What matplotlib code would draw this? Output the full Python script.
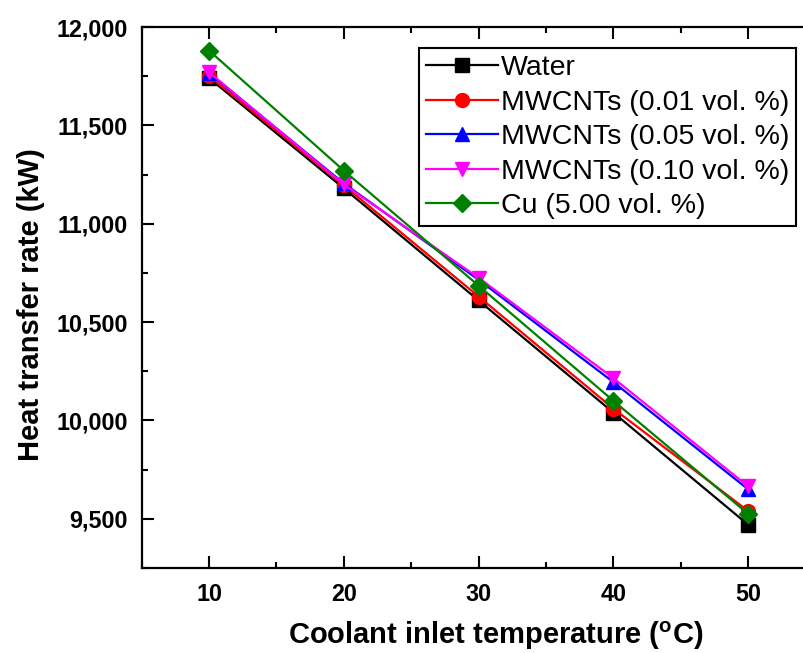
import matplotlib
matplotlib.use("Agg")
import matplotlib.pyplot as plt
from matplotlib.ticker import MultipleLocator, StrMethodFormatter

plt.rcParams['font.family'] = ['Liberation Sans', 'DejaVu Sans']
plt.rcParams['font.weight'] = 'bold'
plt.rcParams['mathtext.fontset'] = 'custom'
plt.rcParams['mathtext.rm'] = 'Liberation Sans:bold'
plt.rcParams['mathtext.bf'] = 'Liberation Sans:bold'
plt.rcParams['mathtext.default'] = 'bf'

temps = [10, 20, 30, 40, 50]
water = [11740, 11180, 10610, 10040, 9470]
mw001 = [11750, 11195, 10630, 10060, 9540]
mw005 = [11765, 11205, 10715, 10195, 9650]
mw010 = [11770, 11200, 10725, 10215, 9665]
cu500 = [11880, 11270, 10685, 10100, 9525]

labels = ['Water', 'MWCNTs (0.01 vol. %)', 'MWCNTs (0.05 vol. %)',
          'MWCNTs (0.10 vol. %)', 'Cu (5.00 vol. %)']
colors = ['black', 'red', 'blue', 'magenta', 'green']
markers = ['s', 'o', '^', 'v', 'D']
series = [water, mw001, mw005, mw010, cu500]

fig = plt.figure(figsize=(8.04, 6.53), dpi=100)
W, H = 804, 653
left, right, top, bottom = 141.7, 815.5, 27, 568
ax = fig.add_axes([left / W, 1 - bottom / H, (right - left) / W, (bottom - top) / H])

for ys, lab, c, m in zip(series, labels, colors, markers):
    ms = 9 if m == 'D' else 10
    ax.plot(temps, ys, color=c, marker=m, markersize=ms, linewidth=1.6,
            label=lab, markeredgecolor=c, markerfacecolor=c)

ax.set_xlim(5, 55)
ax.set_ylim(9250, 12000)
ax.xaxis.set_major_locator(MultipleLocator(10))
ax.xaxis.set_minor_locator(MultipleLocator(5))
ax.yaxis.set_major_locator(MultipleLocator(500))
ax.yaxis.set_minor_locator(MultipleLocator(250))
ax.yaxis.set_major_formatter(StrMethodFormatter('{x:,.0f}'))

ax.tick_params(which='both', direction='in', top=True, right=True, width=1.5)
ax.tick_params(which='major', length=8.6, labelsize=16.8)
ax.tick_params(axis='x', which='major', pad=11)
ax.tick_params(axis='y', which='major', pad=10)
ax.tick_params(which='minor', length=4.6)
for sp in ax.spines.values():
    sp.set_linewidth(1.6)

ax.set_xlabel(r'Coolant inlet temperature ($^{o}$C)', fontsize=21, fontweight='bold')
ax.set_ylabel('Heat transfer rate (kW)', fontsize=21, fontweight='bold')
ax.xaxis.set_label_coords(((280 + 712) / 2 - left) / (right - left), (bottom - 636) / (bottom - top))
ax.yaxis.set_label_coords((31 - left) / (right - left), 0.5 - ((140 + 470) / 2 - (top + bottom) / 2) / (bottom - top))
ax.xaxis.label.set_verticalalignment('center')
ax.yaxis.label.set_verticalalignment('center')

leg = ax.legend(loc='upper right', bbox_to_anchor=(796 / W, 1 - 48 / H),
                bbox_transform=fig.transFigure,
                prop={'size': 20.5, 'weight': 'normal'},
                frameon=True, fancybox=False, edgecolor='black', framealpha=1,
                handlelength=2.5, handletextpad=0.1, borderpad=0.25, labelspacing=0.3,
                borderaxespad=0)
leg.get_frame().set_linewidth(1.5)

fig.savefig('out.png', dpi=100)
